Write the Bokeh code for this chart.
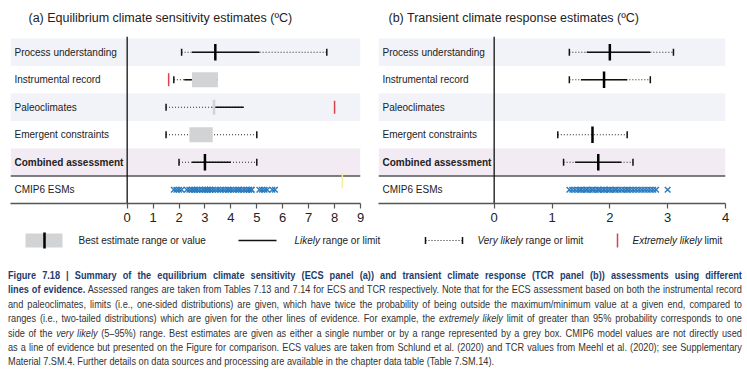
from bokeh.plotting import figure
from bokeh.models import Range1d, FixedTicker, Div
from bokeh.layouts import column, row
from bokeh.embed import file_html
from bokeh.resources import INLINE
from bokeh.core.properties import value
import math

nan = float("nan")

rows = ["Process understanding", "Instrumental record", "Paleoclimates",
        "Emergent constraints", "Combined assessment", "CMIP6 ESMs"]

# ---- ECS (panel a) ----
ecs_vl_lo = [2.1, 1.8, 1.5, 1.5, 2.0]
ecs_lk_lo = [2.5, 2.2, nan, nan, 2.5]
ecs_best_lo = [3.4, 2.5, 3.3, 2.4, 3.0]
ecs_best_hi = [3.4, 3.5, 3.4, 3.3, 3.0]
ecs_lk_hi = [5.1, nan, 4.5, nan, 4.0]
ecs_vl_hi = [7.7, nan, nan, 5.0, 5.0]
ecs_ext = [nan, 1.6, 8.0, nan, nan]
ecs_cmip6 = [1.8, 1.9, 2.0, 2.1, 2.3, 2.4, 2.5, 2.5, 2.6, 2.6, 2.7, 2.7, 2.8, 2.9,
             3.0, 3.0, 3.0, 3.1, 3.1, 3.2, 3.2, 3.3, 3.4, 3.5, 3.6, 3.7, 3.8, 3.9,
             3.9, 4.0, 4.1, 4.2, 4.3, 4.3, 4.4, 4.5, 4.6, 4.7, 4.7, 4.8, 4.8,
             5.1, 5.2, 5.3, 5.4, 5.6, 5.7]
ecs_faint = [8.3]
ecs_ticks = [0, 1, 2, 3, 4, 5, 6, 7, 8, 9]

# ---- TCR (panel b) ----
tcr_vl_lo = [1.3, 1.3, nan, 1.1, 1.2]
tcr_lk_lo = [1.6, 1.5, nan, nan, 1.4]
tcr_best_lo = [2.0, 1.9, nan, 1.7, 1.8]
tcr_best_hi = [2.0, 1.9, nan, 1.7, 1.8]
tcr_lk_hi = [2.7, 2.3, nan, nan, 2.2]
tcr_vl_hi = [3.1, 2.7, nan, 2.3, 2.4]
tcr_ext = [nan, nan, nan, nan, nan]
tcr_cmip6 = [1.3, 1.35, 1.4, 1.45, 1.5, 1.5, 1.55, 1.6, 1.6, 1.65, 1.7, 1.7, 1.75,
             1.8, 1.8, 1.85, 1.9, 1.9, 1.95, 2.0, 2.0, 2.05, 2.1, 2.1, 2.15, 2.2,
             2.25, 2.3, 2.3, 2.35, 2.4, 2.45, 2.5, 2.55, 2.6, 2.65, 2.7, 2.75, 2.8, 3.0]
tcr_faint = []
tcr_ticks = [0, 1, 2, 3, 4]

FONT = "Liberation Sans"
BAND = "#f1f3f8"
PINK = "#f2ebf3"
DOT = "1 2"


def ok(v):
    return not (isinstance(v, float) and math.isnan(v))


def panel(title, xmin, xmax, fw, bl, br, title_dx, ticks,
          vl_lo, lk_lo, b_lo, b_hi, lk_hi, vl_hi, ext, cmip, faint):
    p = figure(frame_width=fw, frame_height=195, x_range=Range1d(xmin, xmax),
               y_range=Range1d(0, 7.09), toolbar_location=None, output_backend="svg",
               min_border_left=bl, min_border_right=br, min_border_top=8,
               min_border_bottom=0, y_axis_location=None, title=None,
               outline_line_color=None, background_fill_color="white",
               border_fill_color="white")
    p.grid.visible = False
    n = len(rows)
    ys = [n - 0.5 - i for i in range(n)]
    bi = [0, 2]
    p.quad(left=[xmin] * 2, right=[xmax] * 2, bottom=[ys[i] - 0.5 for i in bi],
           top=[ys[i] + 0.5 for i in bi], fill_color=BAND, line_color=None)
    p.quad(left=[xmin], right=[xmax], bottom=[ys[4] - 0.5], top=[ys[4] + 0.5],
           fill_color=PINK, line_color=None)
    p.segment(x0=[xmin], x1=[xmax], y0=[1.0], y1=[1.0], line_color="#555555", line_width=1.3)
    p.segment(x0=[0], x1=[0], y0=[0], y1=[6.06], line_color="#111111", line_width=1.3)
    p.text(x=[xmin] * n, y=ys, text=rows, x_offset=4, text_baseline="middle",
           text_font=value(FONT), text_font_size="10px", text_color="#222222",
           text_font_style=["normal", "normal", "normal", "normal", "bold", "normal"])
    p.text(x=[xmin], y=[6.74], text=[title], x_offset=title_dx, text_baseline="middle",
           text_font=value(FONT), text_font_size="12.5px", text_color="#222222")

    dx0, dx1, dy, sx0, sx1, sy = [], [], [], [], [], []
    qx0, qx1, qy = [], [], []
    bx, by = [], []
    tx, ty = [], []
    ex, ey = [], []
    for i in range(len(vl_lo)):
        y = ys[i]
        vals = [v for v in (vl_lo[i], lk_lo[i], b_lo[i], b_hi[i], lk_hi[i], vl_hi[i]) if ok(v)]
        if not vals:
            continue
        if ok(vl_lo[i]) or ok(vl_hi[i]):
            dx0.append(min(vals)); dx1.append(max(vals)); dy.append(y)
        if ok(lk_lo[i]) or ok(lk_hi[i]):
            sx0.append(lk_lo[i] if ok(lk_lo[i]) else b_lo[i])
            sx1.append(lk_hi[i] if ok(lk_hi[i]) else b_hi[i])
            sy.append(y)
        if ok(b_lo[i]):
            if b_hi[i] > b_lo[i]:
                qx0.append(b_lo[i]); qx1.append(b_hi[i]); qy.append(y)
            else:
                bx.append(b_lo[i]); by.append(y)
        for v in (vl_lo[i], vl_hi[i]):
            if ok(v):
                tx.append(v); ty.append(y)
        if ok(ext[i]):
            ex.append(ext[i]); ey.append(y)

    p.segment(x0=dx0, x1=dx1, y0=dy, y1=dy, line_color="#222222", line_width=1.2, line_dash=DOT)
    p.segment(x0=sx0, x1=sx1, y0=sy, y1=sy, line_color="#111111", line_width=1.7)
    p.quad(left=qx0, right=qx1, bottom=[y - 0.27 for y in qy], top=[y + 0.27 for y in qy],
           fill_color="#d2d3d5", line_color=None)
    p.segment(x0=bx, x1=bx, y0=[y - 0.3 for y in by], y1=[y + 0.3 for y in by],
              line_color="#000000", line_width=2.5)
    p.segment(x0=tx, x1=tx, y0=[y - 0.13 for y in ty], y1=[y + 0.13 for y in ty],
              line_color="#111111", line_width=1.5)
    p.segment(x0=ex, x1=ex, y0=[y - 0.24 for y in ey], y1=[y + 0.24 for y in ey],
              line_color="#d8434b", line_width=1.5)
    if faint:
        p.segment(x0=faint, x1=faint, y0=[0.55] * len(faint), y1=[1.13] * len(faint),
                  line_color="#f3ef9c", line_width=1.5)
    p.scatter(x=cmip, y=[ys[5]] * len(cmip), marker="x", size=8, line_width=1.4,
              line_color="#2b7bbd")

    ax = p.xaxis[0]
    ax.ticker = FixedTicker(ticks=ticks)
    ax.minor_tick_line_color = None
    ax.major_tick_in = 0
    ax.major_tick_out = 5
    ax.axis_line_color = "#555555"
    ax.axis_line_width = 1.3
    ax.major_tick_line_color = "#555555"
    ax.major_tick_line_width = 1.2
    ax.major_label_text_font = FONT
    ax.major_label_text_font_size = "13px"
    ax.major_label_text_color = "#222222"
    ax.major_label_standoff = 4
    return p


pa = panel("(a) Equilibrium climate sensitivity  estimates (ºC)", -4.5, 9.0, 350, 10, 9, 18,
           ecs_ticks, ecs_vl_lo, ecs_lk_lo, ecs_best_lo, ecs_best_hi, ecs_lk_hi, ecs_vl_hi,
           ecs_ext, ecs_cmip6, ecs_faint)
pb = panel("(b) Transient climate response estimates (ºC)", -2.0, 4.0, 347, 9, 14, 10,
           tcr_ticks, tcr_vl_lo, tcr_lk_lo, tcr_best_lo, tcr_best_hi, tcr_lk_hi, tcr_vl_hi,
           tcr_ext, tcr_cmip6, tcr_faint)

# ---- legend strip ----
LH = 39
lg = figure(frame_width=740, frame_height=LH, x_range=Range1d(0, 740), y_range=Range1d(0, LH),
            toolbar_location=None, output_backend="svg", min_border=0, x_axis_location=None,
            y_axis_location=None, title=None, outline_line_color=None)
lg.grid.visible = False
yc = LH - 16
lg.quad(left=[25], right=[62], bottom=[yc - 7], top=[yc + 7], fill_color="#d2d3d5", line_color=None)
lg.segment(x0=[44], x1=[44], y0=[yc - 8], y1=[yc + 8], line_color="#000000", line_width=2.5)
lg.segment(x0=[238], x1=[276], y0=[yc], y1=[yc], line_color="#111111", line_width=1.7)
lg.segment(x0=[425], x1=[462], y0=[yc], y1=[yc], line_color="#222222", line_width=1.2, line_dash=DOT)
lg.segment(x0=[425, 462], x1=[425, 462], y0=[yc - 3.5] * 2, y1=[yc + 3.5] * 2,
           line_color="#111111", line_width=1.5)
lg.segment(x0=[617], x1=[617], y0=[yc - 7], y1=[yc + 7], line_color="#d8434b", line_width=1.5)
lg.text(x=[78, 294 + 28, 477 + 48, 632 + 72], y=[yc] * 4,
        text=["Best estimate range or value", "range or limit", "range or limit", "limit"],
        text_baseline="middle", text_font=value(FONT), text_font_size="10px", text_color="#222222")
lg.text(x=[294, 477, 632], y=[yc] * 3, text=["Likely", "Very likely", "Extremely likely"],
        text_baseline="middle", text_font=value(FONT), text_font_size="10px",
        text_font_style="italic", text_color="#222222")

# ---- caption ----
L = "text-align:justify;text-align-last:justify;white-space:nowrap;"
B = "color:#1d3c6e;font-weight:bold;"
cap_lines = [
    f'<div style="{L}"><span style="{B}">Figure 7.18 | Summary of the equilibrium climate sensitivity (ECS panel (a)) and transient climate response (TCR panel (b)) assessments using different</span></div>',
    f'<div style="{L}"><span style="{B}">lines of evidence.</span> Assessed ranges are taken from Tables 7.13 and 7.14 for ECS and TCR respectively. Note that for the ECS assessment based on both the instrumental record</div>',
    f'<div style="{L}">and paleoclimates, limits (i.e., one-sided distributions) are given, which have twice the probability of being outside the maximum/minimum value at a given end, compared to</div>',
    f'<div style="{L}">ranges (i.e., two-tailed distributions) which are given for the other lines of evidence. For example, the <i>extremely likely</i> limit of greater than 95% probability corresponds to one</div>',
    f'<div style="{L}">side of the <i>very likely</i> (5–95%) range. Best estimates are given as either a single number or by a range represented by a grey box. CMIP6 model values are not directly used</div>',
    f'<div style="{L}">as a line of evidence but presented on the Figure for comparison. ECS values are taken from Schlund et al. (2020) and TCR values from Meehl et al. (2020); see Supplementary</div>',
    '<div style="white-space:nowrap;">Material 7.SM.4. Further details on data sources and processing are available in the chapter data table (Table 7.SM.14).</div>',
]
cap_html = ('<div style="font-family:\'Liberation Sans\',sans-serif;'
            'font-size:11px;line-height:14.4px;color:#333333;width:880px;margin-left:3px;'
            'transform:scaleX(0.834);transform-origin:0 0;">'
            + "".join(cap_lines) + '</div>')
cap = Div(text=cap_html, width=740, height=102)

layout = column(row(pa, pb), lg, cap)
open("out.html", "w").write(file_html(layout, INLINE))
